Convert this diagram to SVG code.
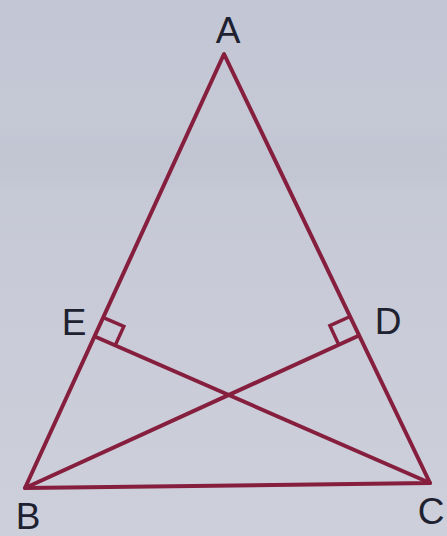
<svg xmlns="http://www.w3.org/2000/svg" width="447" height="536" viewBox="0 0 447 536">
  <defs>
    <linearGradient id="bg" x1="0" y1="0" x2="0" y2="1">
      <stop offset="0" stop-color="#c3c6d4"/>
      <stop offset="0.5" stop-color="#c8cad7"/>
      <stop offset="1" stop-color="#cdcfdb"/>
    </linearGradient>
    <filter id="blur" x="-20%" y="-50%" width="140%" height="200%">
      <feGaussianBlur stdDeviation="8"/>
    </filter>
  </defs>
  <style>
    .edge { stroke: #861f3e; stroke-width: 4; fill: none; stroke-linecap: round; stroke-linejoin: round; }
    .mark { stroke: #861f3e; stroke-width: 3.5; fill: none; stroke-linejoin: miter; }
    .lbl { font-family: "Liberation Sans", Arial, sans-serif; font-size: 37px; fill: #1e2230; text-anchor: middle; }
  </style>
  <rect x="0" y="0" width="447" height="536" fill="url(#bg)"/>
  <rect x="-20" y="135" width="480" height="50" fill="#bcbfcd" opacity="0.35" filter="url(#blur)"/>

  <g id="connectors">
    <path class="edge" d="M224,54 L25,488 L430,483 Z"/>
    <line class="edge" x1="25" y1="488" x2="358" y2="336"/>
    <line class="edge" x1="430" y1="483" x2="96" y2="337"/>
    <path class="mark" d="M104.6,318.1 L123.8,326.5 L115.2,345.4"/>
    <path class="mark" d="M349,317 L329.9,325.7 L338.9,345.1"/>
  </g>

  <g id="A"><text class="lbl" x="228" y="43">A</text></g>
  <g id="B"><text class="lbl" x="28" y="529">B</text></g>
  <g id="C"><text class="lbl" x="431" y="524">C</text></g>
  <g id="D"><text class="lbl" x="388" y="334">D</text></g>
  <g id="E"><text class="lbl" x="74" y="335">E</text></g>
</svg>
